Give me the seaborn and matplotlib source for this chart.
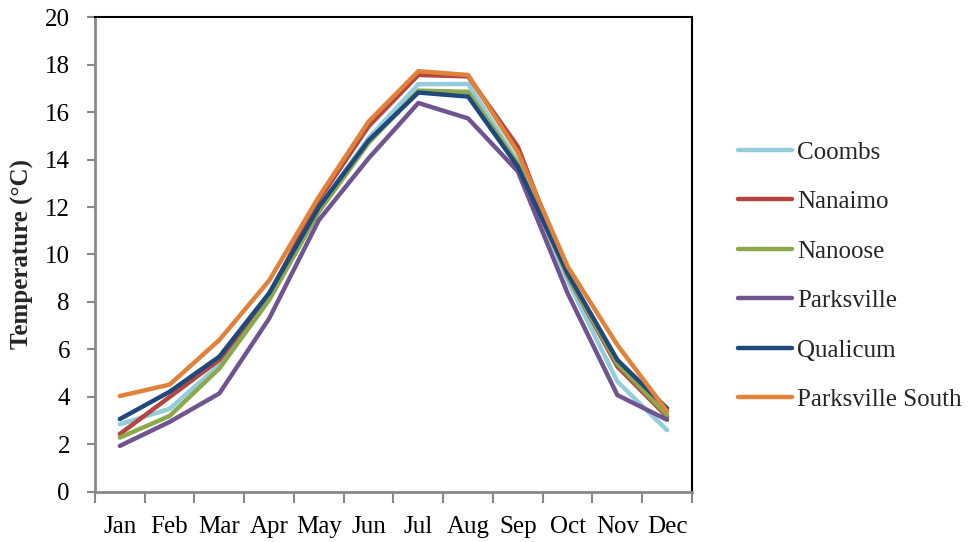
import pandas as pd
import matplotlib
matplotlib.use("Agg")
import matplotlib.pyplot as plt
import seaborn as sns

months = ['Jan', 'Feb', 'Mar', 'Apr', 'May', 'Jun', 'Jul', 'Aug', 'Sep', 'Oct', 'Nov', 'Dec']

coombs = [2.85, 3.5, 5.35, 8.2, 12.0, 14.9, 17.17, 17.18, 13.9, 8.9, 4.65, 2.6]
nanaimo = [2.44, 4.0, 5.56, 8.3, 12.3, 15.4, 17.56, 17.5, 14.54, 9.1, 5.28, 3.17]
nanoose = [2.29, 3.2, 5.2, 8.08, 11.8, 14.7, 16.9, 16.85, 13.8, 9.1, 5.4, 3.24]
parksville = [1.94, 2.95, 4.15, 7.3, 11.45, 14.05, 16.38, 15.73, 13.5, 8.37, 4.08, 3.04]
qualicum = [3.07, 4.22, 5.7, 8.37, 12.0, 14.8, 16.82, 16.65, 13.7, 9.2, 5.56, 3.52]
parksville_south = [4.04, 4.52, 6.4, 8.9, 12.43, 15.6, 17.72, 17.56, 14.3, 9.5, 6.19, 3.4]

stations = {
    'Coombs': coombs,
    'Nanaimo': nanaimo,
    'Nanoose': nanoose,
    'Parksville': parksville,
    'Qualicum': qualicum,
    'Parksville South': parksville_south,
}

colors = {
    'Coombs': '#93CDDD',
    'Nanaimo': '#B5463F',
    'Nanoose': '#8BA94C',
    'Parksville': '#705490',
    'Qualicum': '#1F497D',
    'Parksville South': '#E0823A',
}

# long format for seaborn
rows = []
for name, vals in stations.items():
    for m, v in zip(months, vals):
        rows.append({'Month': m, 'Temp': v, 'Station': name})
df = pd.DataFrame(rows)

sns.set_theme(style='white')
plt.rcParams['font.family'] = ['Liberation Serif', 'DejaVu Serif']

fig = plt.figure(figsize=(9.76, 5.42), dpi=100)
ax = fig.add_axes([0.0973, 0.0923, 0.6117, 0.8763])

sns.lineplot(data=df, x='Month', y='Temp', hue='Station', palette=colors,
             hue_order=list(stations.keys()), linewidth=3.2, sort=False,
             ax=ax, legend=False)

ax.set_xlim(-0.5, len(months) - 0.5)
ax.set_ylim(0, 20)
ax.set_yticks(range(0, 21, 2))
ax.set_xticks(range(len(months)))
ax.set_xticklabels(months)
ax.set_xticks([i + 0.5 for i in range(-1, len(months))], minor=True)

ax.tick_params(axis='x', which='major', length=0, pad=17, labelsize=18, colors='black')
ax.tick_params(axis='x', which='minor', length=8, width=1.5, color='#888888', bottom=True)
ax.tick_params(axis='y', which='major', length=6, width=1.5, color='#888888',
               pad=12, labelsize=18, left=True, labelcolor='black')

ax.set_xlabel('')
ax.set_ylabel('Temperature (°C)', fontsize=18, fontweight='bold', labelpad=8)

for side in ['left', 'bottom']:
    ax.spines[side].set_color('#888888')
    ax.spines[side].set_linewidth(2)
for side in ['top', 'right']:
    ax.spines[side].set_color('black')
    ax.spines[side].set_linewidth(1.5)
    ax.spines[side].set_visible(True)

handles = [plt.Line2D([], [], color=colors[n], linewidth=3.2) for n in stations]
fig.legend(handles, list(stations.keys()), loc='upper left',
           bbox_to_anchor=(0.746, 0.758), frameon=False, fontsize=18,
           handlelength=2.15, handletextpad=0.2, labelspacing=1.08,
           borderaxespad=0)

fig.savefig('out.png', dpi=100)
